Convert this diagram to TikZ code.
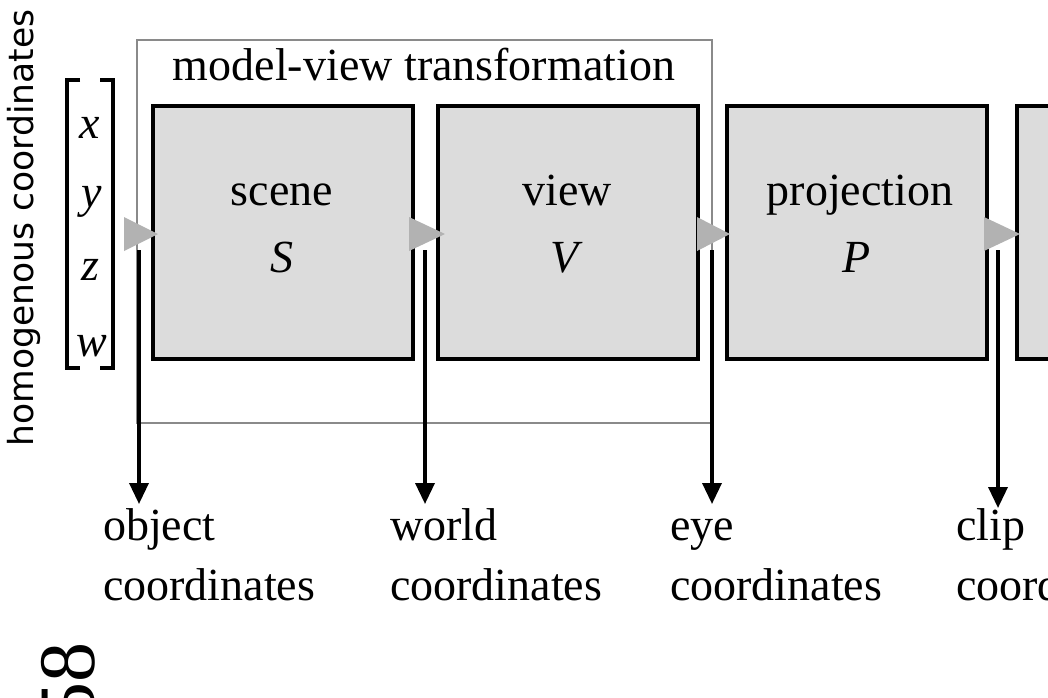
\documentclass[tikz,border=0pt]{standalone}
\usepackage{fontspec}
\setmainfont{Liberation Serif}
\newfontfamily\axisfont{DejaVu Sans}
\usetikzlibrary{arrows.meta}
\definecolor{boxfill}{HTML}{DCDCDC}
\definecolor{trigray}{HTML}{B2B2B2}
\definecolor{framegray}{HTML}{8A8A8A}
\newcommand{\lh}{\rule{0pt}{33pt}}
\begin{document}
\begin{tikzpicture}[x=1pt,y=-1pt,
  stagebox/.style={draw=black, line width=3.5pt, fill=boxfill, anchor=north west,
    minimum width=260pt, minimum height=253pt, inner sep=0pt},
  big/.style={font=\fontsize{46}{60}\selectfont, inner sep=0pt},
  boxtxt/.style={big, anchor=base},
  lab/.style={big, align=left, anchor=north west},
  conn/.style={line width=3.5pt, -{Triangle[length=21pt,width=19pt]}},
  tri/.style={fill=trigray},
  frame/.style={draw=framegray, line width=2.5pt},
  brk/.style={line width=4pt}]
\useasboundingbox (0,0) rectangle (1048,697);
\clip (0,0) rectangle (1048,697);
\fill[white] (0,0) rectangle (1048,697);

% model-view frame
\draw[frame] (137,40) rectangle (712,423);
\node[big, anchor=base] (mvt) at (424,80) {model-view transformation};

% stage boxes
\node[stagebox] (scene) at (151,104) {};
\node[stagebox] (view) at (436,104) {};
\node[stagebox] (proj) at (725,104) {};
\node[stagebox] (next) at (1015,104) {};

\node[boxtxt] (scenet) at (282,205) {scene};
\node[boxtxt] (scenes) at (282,272) {\textit{S}};
\node[boxtxt] (viewt) at (567,205) {view};
\node[boxtxt] (views) at (567,272) {\textit{V}};
\node[boxtxt] (projt) at (860,205) {projection};
\node[boxtxt] (projs) at (857,272) {\textit{P}};

% vertical arrows
\coordinate (a1s) at (139,250); \coordinate (a1e) at (139,504);
\coordinate (a2s) at (425,250); \coordinate (a2e) at (425,504);
\coordinate (a3s) at (712,250); \coordinate (a3e) at (712,504);
\coordinate (a4s) at (998,250); \coordinate (a4e) at (998,508);
\draw[conn] (a1s) -- (a1e);
\draw[conn] (a2s) -- (a2e);
\draw[conn] (a3s) -- (a3e);
\draw[conn] (a4s) -- (a4e);

% grey flow triangles
\fill[tri] (124,217) -- (158,234) -- (124,251) -- cycle;
\fill[tri] (409,217) -- (445,234) -- (409,251) -- cycle;
\fill[tri] (697,217) -- (730,234) -- (697,251) -- cycle;
\fill[tri] (984,217) -- (1020,234) -- (984,251) -- cycle;

% labels
\node[lab] (objl) at (103,507) {\lh object\\coordinates};
\node[lab] (worldl) at (390,507) {\lh world\\coordinates};
\node[lab] (eyel) at (670,507) {\lh eye\\coordinates};
\node[lab] (clipl) at (956,507) {\lh clip\\coordinates};

% homogeneous vector
\draw[brk] (80,80) -- (67,80) -- (67,368) -- (80,368);
\draw[brk] (100,80) -- (113,80) -- (113,368) -- (100,368);
\node[big] (vx) at (90,128) {\textit{x}};
\node[big] (vy) at (92,202) {\textit{y}};
\node[big] (vz) at (90,270) {\textit{z}};
\node[big] (vw) at (92,346) {\textit{w}};

\node[rotate=90, font=\axisfont\fontsize{34.5}{34.5}\selectfont, inner sep=0pt] (hom) at (24,228) {homogenous coordinates};

% cut-off rotated text at bottom left
\node[rotate=90, font=\fontsize{80}{80}\selectfont, inner sep=0pt] (cut) at (68,682) {58};
\end{tikzpicture}
\end{document}
